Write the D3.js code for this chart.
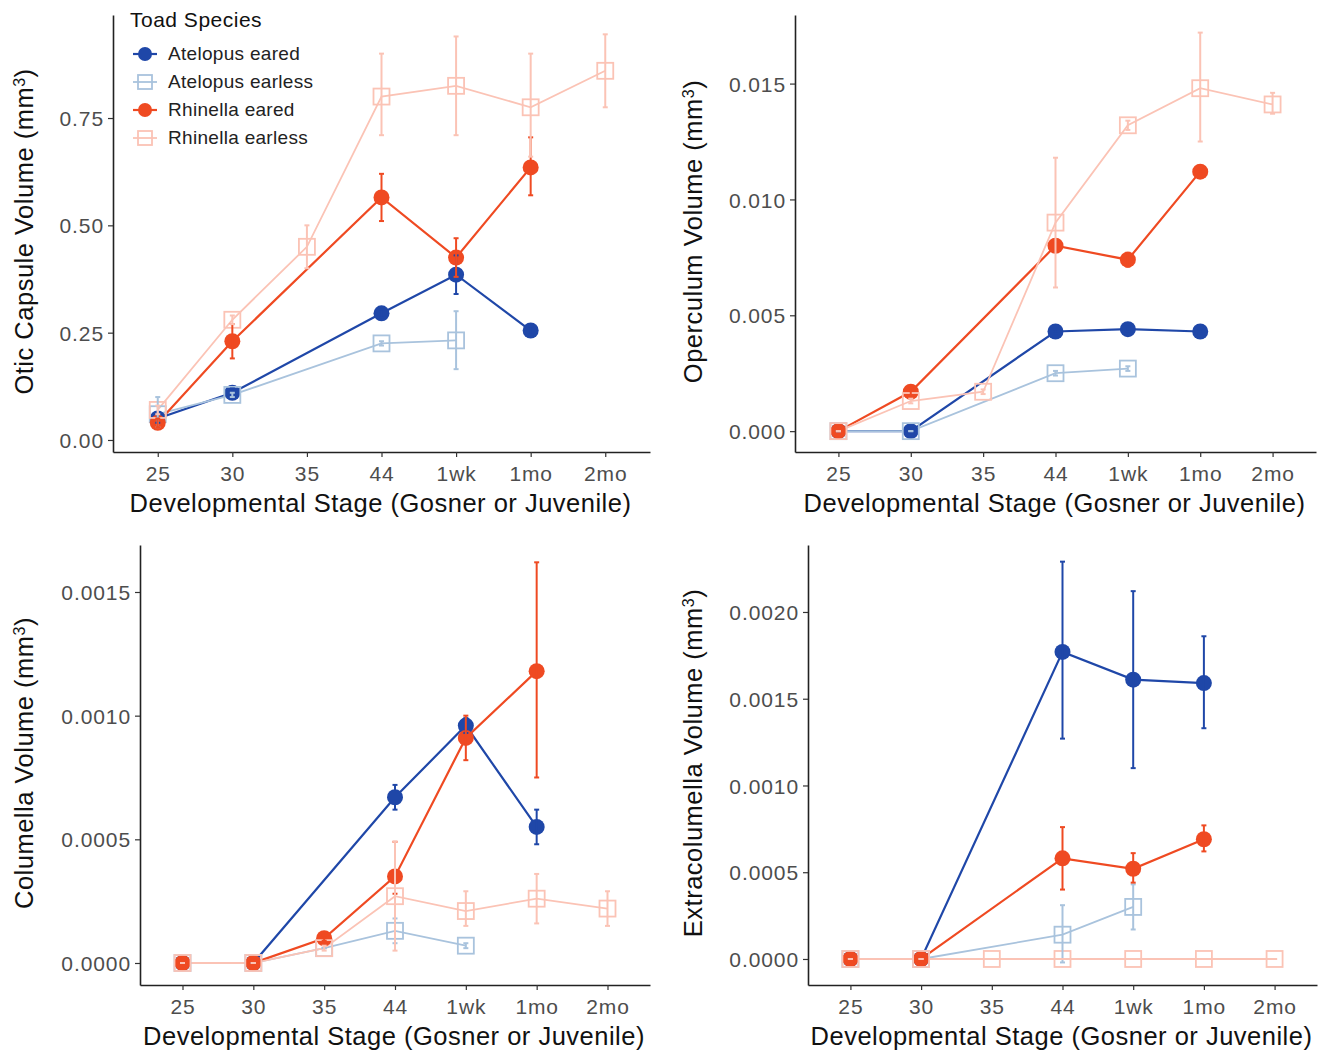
<!DOCTYPE html>
<html>
<head>
<meta charset="utf-8">
<script src="https://cdn.jsdelivr.net/npm/d3@7"></script>
<style>
  body { margin: 0; background: #fff; }
  svg { font-family: "Liberation Sans", Arial, sans-serif; }
</style>
</head>
<body>
<svg id="chart" width="1320" height="1050"></svg>
<script>
// stages along x
const stages = ["25", "30", "35", "44", "1wk", "1mo", "2mo"];
const species = ["Atelopus eared", "Atelopus earless", "Rhinella eared", "Rhinella earless"];
const colors = ["#1f47a8", "#a9c3dd", "#ef4a22", "#fbc3b5"];
const filled = [true, false, true, false];

// otic capsule (rows follow species order)
const oticMean = [
  [0.05, 0.11, null, 0.295, 0.385, 0.255, null],
  [0.06, 0.105, null, 0.225, 0.232, null, null],
  [0.04, 0.23, null, 0.565, 0.425, 0.635, null],
  [0.07, 0.28, 0.45, 0.80, 0.825, 0.775, 0.86]
];
const oticLo = [
  [0.04, 0.10, null, 0.285, 0.34, 0.245, null],
  [0.03, 0.10, null, 0.22, 0.165, null, null],
  [0.03, 0.19, null, 0.51, 0.38, 0.57, null],
  [0.06, 0.27, 0.40, 0.71, 0.71, 0.66, 0.775]
];
const oticHi = [
  [0.06, 0.12, null, 0.305, 0.43, 0.265, null],
  [0.10, 0.11, null, 0.23, 0.30, null, null],
  [0.05, 0.27, null, 0.62, 0.47, 0.705, null],
  [0.08, 0.29, 0.50, 0.90, 0.94, 0.90, 0.945]
];

// operculum
const operMean = [
  [0, 0, null, 0.0043, 0.0044, 0.0043, null],
  [0, 0, null, 0.0025, 0.0027, null, null],
  [0, 0.0017, null, 0.0080, 0.0074, 0.0112, null],
  [0, 0.0013, 0.0017, 0.0090, 0.0132, 0.0148, 0.0141]
];
const operLo = [
  [0, 0, null, 0.0042, 0.0043, 0.0042, null],
  [0, 0, null, 0.0024, 0.0026, null, null],
  [0, 0.0015, null, 0.0078, 0.0071, 0.0111, null],
  [0, 0.0012, 0.0016, 0.0062, 0.0130, 0.0125, 0.0137]
];
const operHi = [
  [0, 0, null, 0.0044, 0.0045, 0.0044, null],
  [0, 0, null, 0.0026, 0.0028, null, null],
  [0, 0.0019, null, 0.0082, 0.0077, 0.0113, null],
  [0, 0.0014, 0.0018, 0.0118, 0.0134, 0.0172, 0.0146]
];

// columella
const columMean = [
  [0, 0, null, 0.00067, 0.00096, 0.00055, null],
  [0, 0, 0.00006, 0.00013, 0.00007, null, null],
  [0, 0, 0.0001, 0.00035, 0.00091, 0.00118, null],
  [0, 0, 0.00006, 0.00027, 0.00021, 0.00026, 0.00022]
];
const columLo = [
  [0, 0, null, 0.00062, 0.00093, 0.00048, null],
  [0, 0, 0.00006, 0.00008, 0.00006, null, null],
  [0, 0, 0.00009, 0.00028, 0.00082, 0.00075, null],
  [0, 0, 0.00005, 0.00005, 0.00015, 0.00016, 0.00015]
];
const columHi = [
  [0, 0, null, 0.00072, 0.00099, 0.00062, null],
  [0, 0, 0.00006, 0.00018, 0.00008, null, null],
  [0, 0, 0.00011, 0.00049, 0.00100, 0.00162, null],
  [0, 0, 0.00007, 0.00049, 0.00029, 0.00036, 0.00029]
];

// extracolumella
const extraMean = [
  [0, 0, null, 0.00177, 0.00161, 0.00159, null],
  [0, 0, null, 0.00014, 0.00030, null, null],
  [0, 0, null, 0.00058, 0.00052, 0.00069, null],
  [0, 0, 0, 0, 0, 0, 0]
];
const extraLo = [
  [0, 0, null, 0.00127, 0.00110, 0.00133, null],
  [0, 0, null, -0.00002, 0.00017, null, null],
  [0, 0, null, 0.00040, 0.00044, 0.00062, null],
  [0, 0, 0, 0, 0, 0, 0]
];
const extraHi = [
  [0, 0, null, 0.00229, 0.00212, 0.00186, null],
  [0, 0, null, 0.00031, 0.00043, null, null],
  [0, 0, null, 0.00076, 0.00061, 0.00077, null],
  [0, 0, 0, 0, 0, 0, 0]
];

const oticTicks = [0, 0.25, 0.5, 0.75];
const operTicks = [0, 0.005, 0.010, 0.015];
const columTicks = [0, 0.0005, 0.0010, 0.0015];
const extraTicks = [0, 0.0005, 0.0010, 0.0015, 0.0020];

const panels = [
  { title: "Otic Capsule Volume", mean: oticMean, lo: oticLo, hi: oticHi, ticks: oticTicks, fmt: d3.format(".2f"),
    dom: [-0.028, 0.99], x0: 113, x1: 650, y0: 15, y1: 452, tx: 33, legend: true },
  { title: "Operculum Volume", mean: operMean, lo: operLo, hi: operHi, ticks: operTicks, fmt: d3.format(".3f"),
    dom: [-0.0009, 0.01796], x0: 795, x1: 1316, y0: 15, y1: 452, tx: 702 },
  { title: "Columella Volume", mean: columMean, lo: columLo, hi: columHi, ticks: columTicks, fmt: d3.format(".4f"),
    dom: [-0.000089, 0.00169], x0: 140, x1: 650, y0: 545, y1: 985, tx: 33 },
  { title: "Extracolumella Volume", mean: extraMean, lo: extraLo, hi: extraHi, ticks: extraTicks, fmt: d3.format(".4f"),
    dom: [-0.00015, 0.002386], x0: 808, x1: 1317, y0: 545, y1: 985, tx: 702 }
];

const svg = d3.select("#chart");

panels.forEach((p) => {
  const x = d3.scalePoint().domain(stages).range([p.x0, p.x1]).padding(0.6);
  const y = d3.scaleLinear().domain(p.dom).range([p.y1, p.y0]);
  const g = svg.append("g");

  // axes
  const xAxis = g.append("g")
    .attr("transform", `translate(0,${p.y1})`)
    .call(d3.axisBottom(x).tickSize(5).tickSizeOuter(0).tickPadding(4));
  const yAxis = g.append("g")
    .attr("transform", `translate(${p.x0},0)`)
    .call(d3.axisLeft(y).tickValues(p.ticks).tickFormat(p.fmt).tickSize(5).tickSizeOuter(0).tickPadding(4));
  [xAxis, yAxis].forEach((a) => {
    a.select(".domain").attr("stroke", "#222").attr("stroke-width", 1.6);
    a.selectAll(".tick line").attr("stroke", "#333").attr("stroke-width", 1.2);
    a.selectAll(".tick text").attr("fill", "#4d4d4d").style("font-size", "21px")
      .style("letter-spacing", "0.9px")
      .style("font-family", "'Liberation Sans', Arial, sans-serif");
  });
  xAxis.selectAll(".tick text").attr("dy", "0.95em");
  yAxis.selectAll(".tick text").attr("dy", "0.36em");

  // axis titles
  g.append("text")
    .attr("x", (p.x0 + p.x1) / 2 - 1)
    .attr("y", p.y1 + 60)
    .attr("text-anchor", "middle")
    .style("font-size", "25.5px")
    .style("letter-spacing", "0.5px")
    .attr("fill", "#111")
    .text("Developmental Stage (Gosner or Juvenile)");

  const yt = g.append("text")
    .attr("transform", `translate(${p.tx},${(p.y0 + p.y1) / 2 - 2}) rotate(-90)`)
    .attr("text-anchor", "middle")
    .style("font-size", "25.5px")
    .style("letter-spacing", "0.5px")
    .attr("fill", "#111");
  yt.append("tspan").text(p.title + " (mm");
  yt.append("tspan").attr("baseline-shift", "super").style("font-size", "16px").text("3");
  yt.append("tspan").text(")");

  const series = species.map((s, i) => stages.map((st, j) => ({
    stage: st, v: p.mean[i][j], lo: p.lo[i][j], hi: p.hi[i][j]
  })).filter((d) => d.v !== null));

  const line = d3.line().x((d) => x(d.stage)).y((d) => y(d.v));

  // lines
  series.forEach((pts, i) => {
    g.append("path")
      .datum(pts)
      .attr("d", line)
      .attr("fill", "none")
      .attr("stroke", colors[i])
      .attr("stroke-width", filled[i] ? 2.2 : 1.8);
  });

  // points
  series.forEach((pts, i) => {
    if (filled[i]) {
      g.selectAll(null).data(pts).enter().append("circle")
        .attr("cx", (d) => x(d.stage))
        .attr("cy", (d) => y(d.v))
        .attr("r", 8)
        .attr("fill", colors[i]);
    } else {
      g.selectAll(null).data(pts).enter().append("rect")
        .attr("x", (d) => x(d.stage) - 8)
        .attr("y", (d) => y(d.v) - 8)
        .attr("width", 16)
        .attr("height", 16)
        .attr("fill", "none")
        .attr("stroke", colors[i])
        .attr("stroke-width", 1.8);
    }
  });

  // error bars
  series.forEach((pts, i) => {
    const eb = g.selectAll(null).data(pts).enter().append("g")
      .attr("stroke", colors[i])
      .attr("stroke-width", 2);
    eb.append("line")
      .attr("x1", (d) => x(d.stage)).attr("x2", (d) => x(d.stage))
      .attr("y1", (d) => y(d.lo)).attr("y2", (d) => y(d.hi));
    eb.append("line")
      .attr("x1", (d) => x(d.stage) - 2.5).attr("x2", (d) => x(d.stage) + 2.5)
      .attr("y1", (d) => y(d.lo)).attr("y2", (d) => y(d.lo));
    eb.append("line")
      .attr("x1", (d) => x(d.stage) - 2.5).attr("x2", (d) => x(d.stage) + 2.5)
      .attr("y1", (d) => y(d.hi)).attr("y2", (d) => y(d.hi));
  });

  // legend
  if (p.legend) {
    const lg = svg.append("g").attr("transform", "translate(130,0)");
    lg.append("text").attr("x", 0).attr("y", 27).style("font-size", "21px").style("letter-spacing", "0.5px")
      .attr("fill", "#111").text("Toad Species");
    species.forEach((s, i) => {
      const cy = 54 + i * 28;
      const item = lg.append("g");
      item.append("line").attr("x1", 3).attr("x2", 27).attr("y1", cy).attr("y2", cy)
        .attr("stroke", colors[i]).attr("stroke-width", filled[i] ? 2.2 : 1.8);
      if (filled[i]) {
        item.append("circle").attr("cx", 15).attr("cy", cy).attr("r", 7).attr("fill", colors[i]);
      } else {
        item.append("rect").attr("x", 8).attr("y", cy - 7).attr("width", 14).attr("height", 14)
          .attr("fill", "none").attr("stroke", colors[i]).attr("stroke-width", 1.8);
      }
      item.append("text").attr("x", 38).attr("y", cy + 6).style("font-size", "19px").style("letter-spacing", "0.3px")
        .attr("fill", "#222").text(s);
    });
  }
});
</script>
</body>
</html>
